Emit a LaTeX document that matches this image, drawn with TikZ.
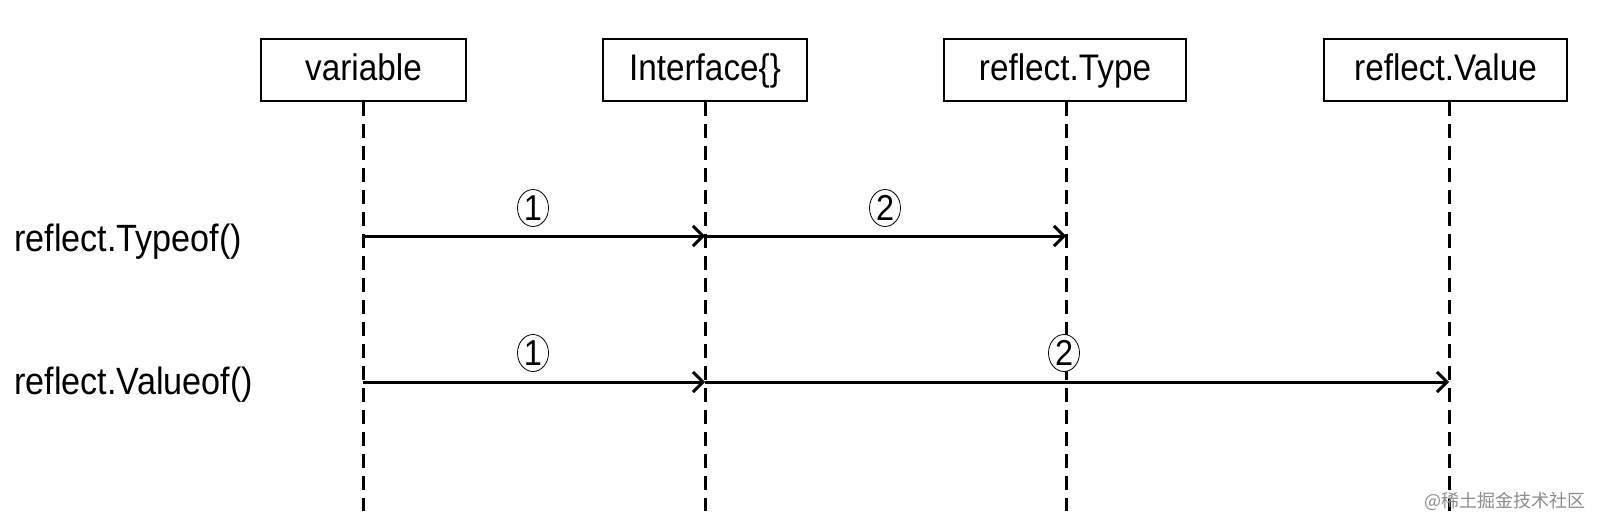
\documentclass[tikz,border=0pt]{standalone}
\usepackage{fontspec}
\setmainfont{Liberation Sans}[FakeStretch=0.9]
\newfontfamily\cjkfont{Noto Sans CJK SC}
\usetikzlibrary{arrows.meta,shapes.geometric}
\begin{document}
\begin{tikzpicture}[x=1pt,y=-1pt,
  objbox/.style={draw=black, line width=2.6pt, minimum height=62pt, inner sep=0pt,
    font=\fontsize{37}{44}\selectfont, text height=27pt, text depth=7pt},
  lifeline/.style={draw=black, line width=3pt, dash pattern=on 14pt off 8pt},
  msg/.style={draw=black, line width=3pt, -{Straight Barb[length=10pt,width=20pt,line width=3pt]}},
  numlabel/.style={ellipse, draw=black, line width=0.8pt, minimum width=31pt, minimum height=37pt,
    inner sep=0pt, font=\fontsize{36}{40}\selectfont},
  rowlabel/.style={font=\fontsize{38}{44}\selectfont, anchor=west, inner sep=0pt}]
\useasboundingbox (0,0) rectangle (1603,528);
% object boxes
\node[objbox, minimum width=205pt] (var) at (363.5,70) {variable};
\node[objbox, minimum width=204pt] (itf) at (705,70) {Interface\{\}};
\node[objbox, minimum width=242pt] (typ) at (1065,70) {reflect.Type};
\node[objbox, minimum width=243pt] (val) at (1445.5,70) {reflect.Value};
% lifeline ends
\coordinate (varE) at (363,511);
\coordinate (itfE) at (705,511);
\coordinate (typE) at (1066,511);
\coordinate (valE) at (1449,511);
\draw[lifeline] (var.south -| varE) -- (varE);
\draw[lifeline] (itf.south -| itfE) -- (itfE);
\draw[lifeline] (typ.south -| typE) -- (typE);
\draw[lifeline] (val.south -| valE) -- (valE);
% message points
\coordinate (v1) at (363,236);
\coordinate (i1) at (705,236);
\coordinate (t1) at (1066,236);
\coordinate (v2) at (363,382);
\coordinate (i2) at (705,382);
\coordinate (a2) at (1449,382);
\draw[msg] (v1) -- (i1);
\draw[msg] (i1) -- (t1);
\draw[msg] (v2) -- (i2);
\draw[msg] (i2) -- (a2);
% labels
\node[numlabel] (n11) at (533,208) {1};
\node[numlabel] (n12) at (885,208) {2};
\node[numlabel, fill=white] (n21) at (533,353) {1};
\node[numlabel, fill=white] (n22) at (1064,353) {2};
\node[rowlabel] (r1) at (14,242) {reflect.Typeof()};
\node[rowlabel] (r2) at (14,385) {reflect.Valueof()};
% watermark
\node[font=\cjkfont\fontsize{18}{20}\selectfont, text=black!45, inner sep=0pt] (wm) at (1505,501) {@稀土掘金技术社区};
\end{tikzpicture}
\end{document}
